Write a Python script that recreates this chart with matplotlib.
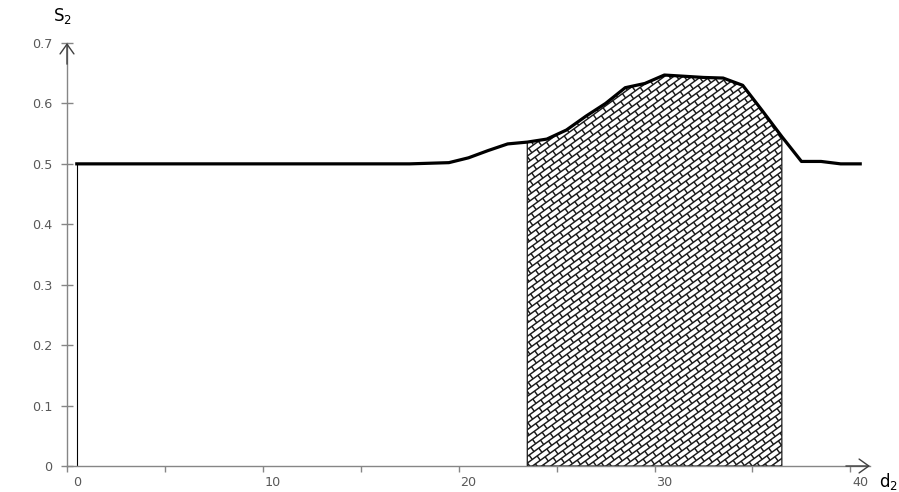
import numpy as np
import matplotlib
matplotlib.use('Agg')
import matplotlib.pyplot as plt
from matplotlib.patches import Polygon
from matplotlib.collections import LineCollection
from matplotlib.transforms import IdentityTransform

# data
d2 = list(range(41))
s2 = [0.5, 0.5, 0.5, 0.5, 0.5, 0.5, 0.5, 0.5, 0.5, 0.5,
      0.5, 0.5, 0.5, 0.5, 0.5, 0.5, 0.5, 0.5, 0.501, 0.502,
      0.51, 0.522, 0.533, 0.536, 0.541, 0.556, 0.579, 0.600, 0.626, 0.633,
      0.647, 0.645, 0.643, 0.642, 0.630, 0.588, 0.545, 0.504, 0.504, 0.5,
      0.5]
hatch_from = 23
hatch_to = 36
xtick_labels = [0, 10, 20, 30, 40]
ytick_values = [0, 0.1, 0.2, 0.3, 0.4, 0.5, 0.6, 0.7]
ytick_labels = ['0', '0.1', '0.2', '0.3', '0.4', '0.5', '0.6', '0.7']

AXIS_GREY = '#868686'
LABEL_GREY = '#595959'


def brick_segments(x0, y0, x1, y1, h=5.4, length=12.0, angle=36):
    """rotated brick wall pattern, in pixels"""
    t = np.radians(angle)
    u = np.array([np.cos(t), np.sin(t)])
    v = np.array([-np.sin(t), np.cos(t)])
    c = np.array([(x0 + x1) / 2, (y0 + y1) / 2])
    r = np.hypot(x1 - x0, y1 - y0) / 2 + length
    nrows = int(r / h) + 1
    ncols = int(r / length) + 1
    segs = []
    for k in range(-nrows, nrows + 1):
        p = c + v * k * h
        segs.append([p - u * r, p + u * r])
        for j in range(-ncols, ncols + 1):
            q = p + u * (j + 0.5 * (k % 2)) * length
            segs.append([q, q + v * h])
    return segs


def main():
    fig = plt.figure(figsize=(8.99, 4.92), dpi=100)
    ax = fig.add_axes([67 / 899, 26 / 492, 803 / 899, 423 / 492])
    ax.set_xlim(-0.5, 40.5)
    ax.set_ylim(0, 0.7)

    # thin edge at the start of the area
    ax.vlines(d2[0], 0, s2[0], color='black', lw=0.8, zorder=2)

    # hatched band
    xs = d2[hatch_from:hatch_to + 1]
    ys = s2[hatch_from:hatch_to + 1]
    verts = [(xs[0], 0)] + list(zip(xs, ys)) + [(xs[-1], 0)]
    band = Polygon(verts, closed=True, facecolor='white', edgecolor='black',
                   lw=0.8, zorder=2)
    ax.add_patch(band)

    px = ax.transData.transform([(xs[0], 0), (xs[-1], max(ys))])
    lc = LineCollection(brick_segments(px[0, 0], px[0, 1], px[1, 0], px[1, 1]),
                        colors='#1a1a1a', linewidths=1.05,
                        transform=IdentityTransform(), zorder=2)
    lc.set_clip_path(band)
    ax.add_collection(lc)

    ax.plot(d2, s2, color='black', lw=2.3, solid_joinstyle='round', zorder=3)

    for side in ('top', 'right'):
        ax.spines[side].set_visible(False)
    for side in ('left', 'bottom'):
        ax.spines[side].set_color(AXIS_GREY)
        ax.spines[side].set_linewidth(1.0)

    ax.set_xticks([-0.5 + 5 * k for k in range(9)])
    ax.set_xticklabels([])
    ax.set_xticks(xtick_labels, minor=True)
    ax.set_xticklabels([str(v) for v in xtick_labels], minor=True)
    ax.tick_params(axis='x', which='major', direction='out', length=4.2,
                   width=1.0, color=AXIS_GREY)
    ax.tick_params(axis='x', which='minor', length=0, pad=7,
                   labelsize=9.2, labelcolor=LABEL_GREY)

    ax.set_yticks(ytick_values)
    ax.set_yticklabels(ytick_labels)
    ax.tick_params(axis='y', direction='inout', length=8.6, width=1.0,
                   color=AXIS_GREY, labelsize=9.2, labelcolor=LABEL_GREY, pad=6)

    arrow = dict(arrowstyle='->,head_length=0.7,head_width=0.5',
                 color='#404040', lw=1.0, shrinkA=0, shrinkB=0)
    ax.annotate('', xy=(0, 1), xytext=(0, 0.95), xycoords='axes fraction',
                arrowprops=arrow, annotation_clip=False)
    ax.annotate('', xy=(1, 0), xytext=(0.97, 0), xycoords='axes fraction',
                arrowprops=arrow, annotation_clip=False)

    fig.text(62 / 899, 1 - 16 / 492, r'$\mathregular{S_2}$', fontsize=12,
             ha='center', va='center')
    fig.text(888 / 899, 1 - 481 / 492, r'$\mathregular{d_2}$', fontsize=12,
             ha='center', va='center')

    fig.savefig('out.png', dpi=100)


if __name__ == '__main__':
    main()
